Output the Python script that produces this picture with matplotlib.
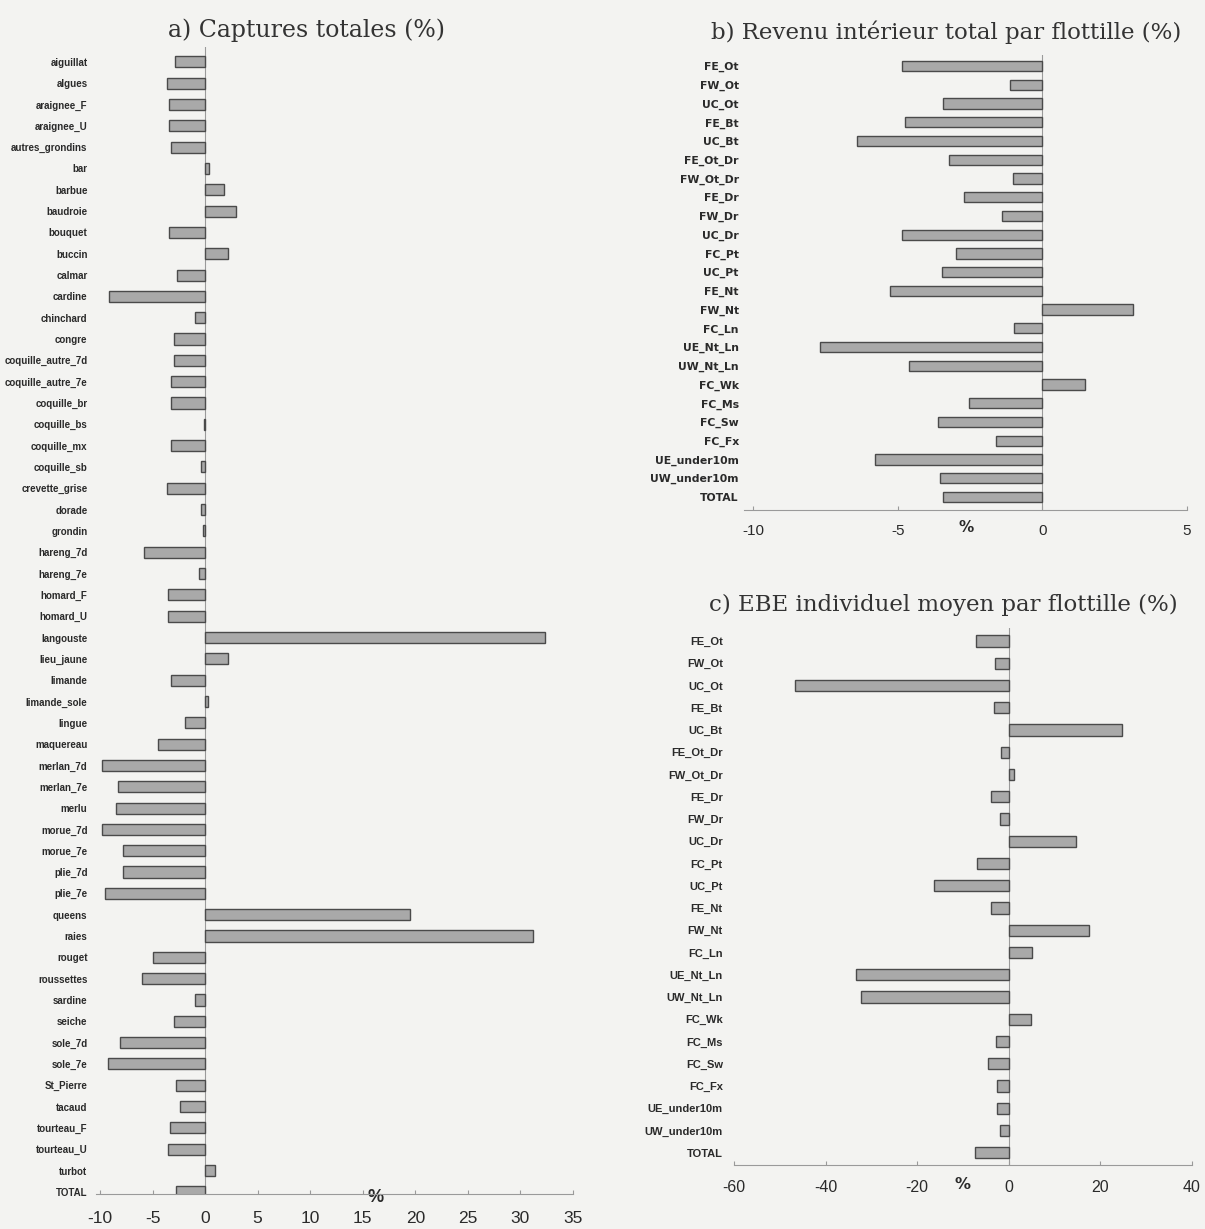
import matplotlib
matplotlib.use("Agg")
import matplotlib.pyplot as plt

# a) Captures totales (%)
species = ["aiguillat", "algues", "araignee_F", "araignee_U", "autres_grondins", "bar",
           "barbue", "baudroie", "bouquet", "buccin", "calmar", "cardine", "chinchard",
           "congre", "coquille_autre_7d", "coquille_autre_7e", "coquille_br", "coquille_bs",
           "coquille_mx", "coquille_sb", "crevette_grise", "dorade", "grondin", "hareng_7d",
           "hareng_7e", "homard_F", "homard_U", "langouste", "lieu_jaune", "limande",
           "limande_sole", "lingue", "maquereau", "merlan_7d", "merlan_7e", "merlu",
           "morue_7d", "morue_7e", "plie_7d", "plie_7e", "queens", "raies", "rouget",
           "roussettes", "sardine", "seiche", "sole_7d", "sole_7e", "St_Pierre", "tacaud",
           "tourteau_F", "tourteau_U", "turbot", "TOTAL"]
captures = [-2.9, -3.6, -3.4, -3.4, -3.2, 0.4,
            1.8, 2.9, -3.4, 2.2, -2.7, -9.1, -1.0,
            -3.0, -3.0, -3.2, -3.2, -0.15,
            -3.2, -0.35, -3.6, -0.35, -0.2, -5.8,
            -0.55, -3.5, -3.5, 32.3, 2.2, -3.2,
            0.3, -1.9, -4.5, -9.8, -8.3, -8.5,
            -9.8, -7.8, -7.8, -9.5, 19.5, 31.2, -5.0,
            -6.0, -1.0, -3.0, -8.1, -9.2, -2.75, -2.4,
            -3.35, -3.5, 0.9, -2.75]

# b) and c) par flottille
fleets = ["FE_Ot", "FW_Ot", "UC_Ot", "FE_Bt", "UC_Bt", "FE_Ot_Dr", "FW_Ot_Dr", "FE_Dr",
          "FW_Dr", "UC_Dr", "FC_Pt", "UC_Pt", "FE_Nt", "FW_Nt", "FC_Ln", "UE_Nt_Ln",
          "UW_Nt_Ln", "FC_Wk", "FC_Ms", "FC_Sw", "FC_Fx", "UE_under10m", "UW_under10m",
          "TOTAL"]
revenu = [-4.84, -1.13, -3.45, -4.74, -6.39, -3.22, -1.01, -2.71,
          -1.40, -4.84, -2.97, -3.48, -5.26, 3.14, -0.98, -7.70,
          -4.62, 1.47, -2.53, -3.59, -1.59, -5.79, -3.53,
          -3.45]
ebe = [-7.1, -3.0, -46.6, -3.3, 24.7, -1.75, 1.1, -3.9,
       -2.0, 14.8, -7.0, -16.3, -3.9, 17.5, 5.1, -33.4,
       -32.2, 4.9, -2.8, -4.6, -2.55, -2.5, -2.0,
       -7.4]

bg = "#f3f3f1"
bar_face = "#a9a9a9"
bar_edge = "#4a4a4a"
axis_col = "#9a9a9a"

narrow = ["Liberation Sans Narrow", "Liberation Sans", "DejaVu Sans"]
serif = ["DejaVu Serif"]

fig = plt.figure(figsize=(12.05, 12.29), dpi=100, facecolor=bg)


def style(ax, xlim, ylim, xticks, lab_font, lab_size, lab_pad, tick_font, tick_size, tick_pad):
    ax.set_facecolor(bg)
    ax.set_xlim(*xlim)
    ax.set_ylim(*ylim)
    ax.axvline(0, color=axis_col, lw=0.8, zorder=1)
    for s in ["top", "right", "left"]:
        ax.spines[s].set_visible(False)
    ax.spines["bottom"].set_color(axis_col)
    ax.spines["bottom"].set_linewidth(0.8)
    ax.set_xticks(xticks)
    ax.set_xticklabels([str(t) for t in xticks], fontfamily=tick_font, fontsize=tick_size,
                       color="#2a2a2a")
    ax.tick_params(axis="x", direction="in", length=3, color=axis_col, pad=tick_pad)
    ax.tick_params(axis="y", length=0, pad=lab_pad)
    for t in ax.get_yticklabels():
        t.set_fontfamily(lab_font)
        t.set_fontsize(lab_size)
        t.set_fontweight("bold")
        t.set_color("#2a2a2a")


# panel a
ax1 = fig.add_axes([0.0795, 0.0285, 0.396, 0.9333])
y1 = range(len(species))
ax1.barh(y1, captures, height=0.52, color=bar_face, edgecolor=bar_edge, linewidth=1, zorder=2)
ax1.set_yticks(list(y1))
ax1.set_yticklabels(species)
style(ax1, (-10.4, 35), (53.1, -0.7), list(range(-10, 36, 5)), narrow, 7, 6,
      narrow, 12.5, 12)
ax1.set_xlabel("%", fontsize=13, fontfamily=narrow, fontweight="bold", color="#2a2a2a")
ax1.xaxis.set_label_coords(0.587, 0.004)

# panel b
ax2 = fig.add_axes([0.6177, 0.585, 0.3674, 0.3704])
y2 = range(len(fleets))
ax2.barh(y2, revenu, height=0.55, color=bar_face, edgecolor=bar_edge, linewidth=1, zorder=2)
ax2.set_yticks(list(y2))
ax2.set_yticklabels(fleets)
style(ax2, (-10.3, 5), (23.7, -0.6), [-10, -5, 0, 5], ["DejaVu Sans"], 7.8, 4,
      ["Liberation Sans", "DejaVu Sans"], 11, 10)
ax2.set_xlabel("%", fontsize=11, fontweight="bold", color="#2a2a2a")
ax2.xaxis.set_label_coords(0.50, -0.022)

# panel c
ax3 = fig.add_axes([0.6091, 0.0521, 0.380, 0.4372])
ax3.barh(y2, ebe, height=0.5, color=bar_face, edgecolor=bar_edge, linewidth=1, zorder=2)
ax3.set_yticks(list(y2))
ax3.set_yticklabels(fleets)
style(ax3, (-60, 40), (23.55, -0.6), [-60, -40, -20, 0, 20, 40], narrow, 8, 8,
      ["Liberation Sans", "DejaVu Sans"], 11.5, 11)
ax3.set_xlabel("%", fontsize=11.5, fontweight="bold", color="#2a2a2a")
ax3.xaxis.set_label_coords(0.50, -0.022)

fig.text(0.254, 0.975, "a) Captures totales (%)", ha="center", va="center",
         fontfamily=serif, fontsize=17, color="#333333")
fig.text(0.785, 0.974, "b) Revenu intérieur total par flottille (%)", ha="center", va="center",
         fontfamily=serif, fontsize=16.5, color="#333333")
fig.text(0.783, 0.508, "c) EBE individuel moyen par flottille (%)", ha="center", va="center",
         fontfamily=serif, fontsize=16.5, color="#333333")

fig.savefig("out.png", dpi=100, facecolor=bg)
